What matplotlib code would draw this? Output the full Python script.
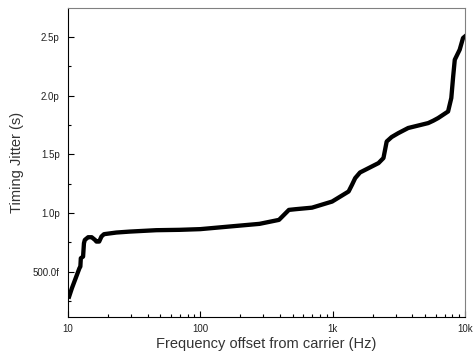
import matplotlib
matplotlib.use("Agg")
import matplotlib.pyplot as plt
import numpy as np
from matplotlib.ticker import FixedLocator, FuncFormatter, MultipleLocator, LogLocator

plt.rcParams['font.family'] = ['Liberation Sans', 'DejaVu Sans']

# frequency offset (Hz) and timing jitter (ps)
freq_hz = [10.2, 10.7, 11.3, 12.2, 12.4, 12.5, 13.0, 13.2, 13.4, 14.2, 15.1, 16.0,
           16.4, 17.2, 17.9, 18.7, 23.2, 29.2, 46.5, 69.5, 100, 165, 280, 393,
           467, 525, 698, 990, 1320, 1400, 1480, 1610, 2220, 2420, 2560, 2790,
           3130, 3720, 5270, 5750, 6270, 7450, 7880, 8140, 8370, 9120, 9660, 10000]
jitter_ps = [0.287, 0.358, 0.429, 0.529, 0.543, 0.614, 0.628, 0.742, 0.770, 0.793,
             0.793, 0.770, 0.756, 0.756, 0.799, 0.819, 0.833, 0.841, 0.853, 0.856,
             0.862, 0.884, 0.907, 0.941, 1.026, 1.032, 1.045, 1.097, 1.183, 1.240,
             1.297, 1.345, 1.425, 1.468, 1.609, 1.647, 1.680, 1.724, 1.766, 1.786,
             1.809, 1.865, 1.980, 2.164, 2.306, 2.392, 2.491, 2.505]

x_ticks = [10, 100, 1000, 10000]
x_labels = ['10', '100', '1k', '10k']


def jitter_fmt(v, pos):
    if v < 1.0:
        return '%.1ff' % (v * 1000)
    return '%.1fp' % v


fig = plt.figure(figsize=(4.73, 3.55), dpi=100)
ax = fig.add_axes([68 / 473, 1 - 317 / 355, 397 / 473, 309 / 355])

ax.plot(freq_hz, jitter_ps, color='black', linewidth=3.1, solid_joinstyle='round')

ax.set_xscale('log')
ax.set_xlim(10, 10000)
ax.set_ylim(0.113, 2.747)

ax.xaxis.set_major_locator(FixedLocator(x_ticks))
ax.set_xticklabels(x_labels)
ax.xaxis.set_minor_locator(LogLocator(base=10, subs=np.arange(2, 10)))
ax.xaxis.set_minor_formatter(FuncFormatter(lambda v, p: ''))
ax.yaxis.set_major_locator(FixedLocator([0.5, 1.0, 1.5, 2.0, 2.5]))
ax.yaxis.set_major_formatter(FuncFormatter(jitter_fmt))
ax.yaxis.set_minor_locator(MultipleLocator(0.25))

ax.tick_params(which='both', direction='in', labelsize=7, colors='black')
ax.tick_params(which='major', length=4, width=0.8)
ax.tick_params(which='minor', length=2.5, width=0.8)
ax.tick_params(axis='x', pad=5)
ax.tick_params(axis='y', pad=6)
for lbl in ax.get_xticklabels() + ax.get_yticklabels():
    lbl.set_color('#222222')

for side in ['top', 'right']:
    ax.spines[side].set_color('#808080')
for side in ['left', 'bottom']:
    ax.spines[side].set_color('black')

ax.set_xlabel('Frequency offset from carrier (Hz)', fontsize=10.5, color='#333333', labelpad=2)
ax.set_ylabel('Timing Jitter (s)', fontsize=10.5, color='#333333', labelpad=6)

fig.savefig('out.png', dpi=100)
